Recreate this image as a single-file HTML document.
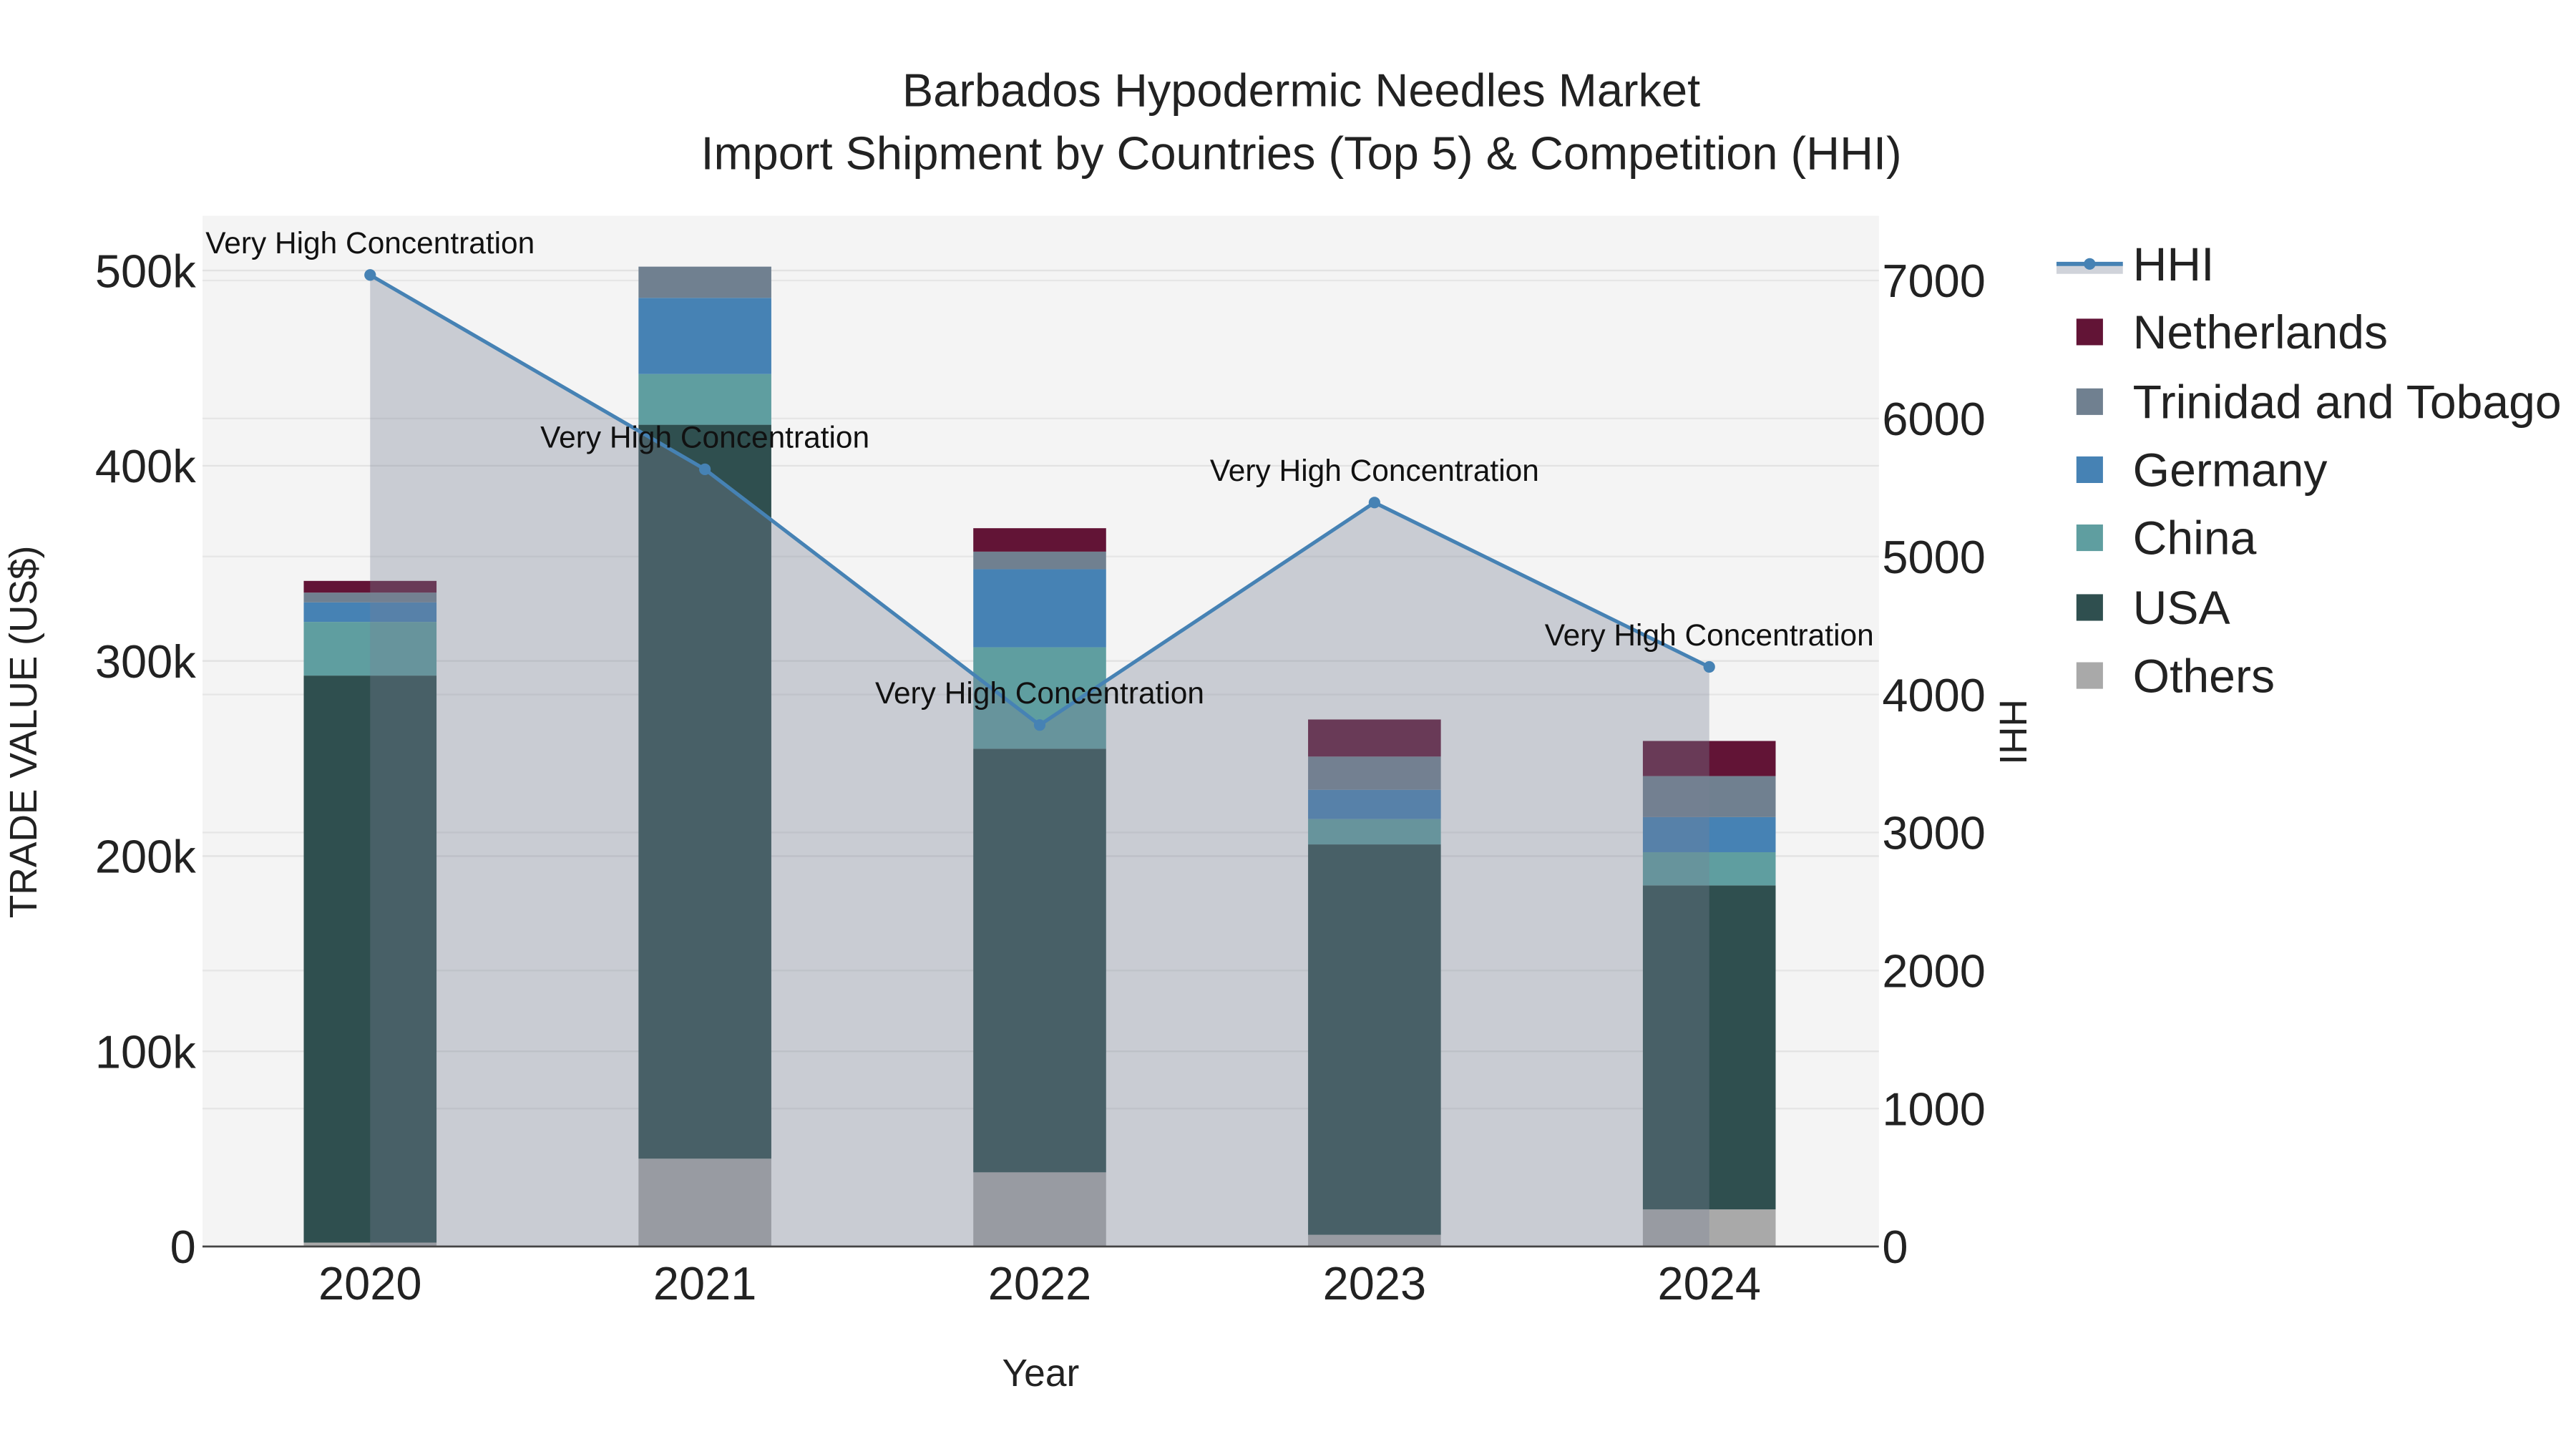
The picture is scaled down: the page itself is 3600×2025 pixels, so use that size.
<!DOCTYPE html>
<html><head><meta charset="utf-8"><style>
html,body{margin:0;padding:0;background:#fff;}
svg{display:block;font-family:"Liberation Sans",Arial,sans-serif;}
</style></head><body>
<svg id="chart" width="3600" height="2025" viewBox="0 0 1552 873" xmlns="http://www.w3.org/2000/svg">
<rect x="122" y="130" width="1010" height="621" fill="#f4f4f4"/>
<g id="grid"></g>
<g id="bars"></g>
<g id="hhi"></g>
<line x1="122" y1="751" x2="1132" y2="751" stroke="#444" stroke-width="1.2"/>
<g id="axes" font-size="28" fill="#222"></g>
<text x="784" y="64" text-anchor="middle" font-size="28" fill="#222">Barbados Hypodermic Needles Market</text>
<text x="784" y="102" text-anchor="middle" font-size="28" fill="#222">Import Shipment by Countries (Top 5) &amp; Competition (HHI)</text>
<text x="627" y="835" text-anchor="middle" font-size="23" fill="#222">Year</text>
<text transform="translate(22,441) rotate(-90)" text-anchor="middle" font-size="23" fill="#222">TRADE VALUE (US$)</text>
<text transform="translate(1205,441) rotate(90)" text-anchor="middle" font-size="23" fill="#222">HHI</text>
<g id="legend" font-size="28.5" fill="#222"></g>
</svg>
<script>
const years = ["2020","2021","2022","2023","2024"];
const seriesNames = ["Others","USA","China","Germany","Trinidad and Tobago","Netherlands"];
const others = [2000, 45000, 38000, 6000, 19000];
const usa = [290500, 376000, 217000, 200000, 166000];
const china = [27500, 26000, 52000, 13000, 17000];
const germany = [10000, 39000, 40000, 15000, 18000];
const trinidad = [5000, 16000, 9000, 17000, 21000];
const netherlands = [6000, 0, 12000, 19000, 18000];
const hhi = [7040, 5632, 3779, 5391, 4200];
const hhiLabels = ["Very High Concentration","Very High Concentration","Very High Concentration","Very High Concentration","Very High Concentration"];
const yTicks = [0,100000,200000,300000,400000,500000];
const yTickLabels = ["0","100k","200k","300k","400k","500k"];
const y2Ticks = [0,1000,2000,3000,4000,5000,6000,7000];

const colors = ["#a9a9a9","#2f4f4f","#5f9ea0","#4682b4","#708090","#621436"];
const NS="http://www.w3.org/2000/svg";
const X0=223, DX=201.7, BW=80, BASE=751;
const xPos=i=>X0+i*DX;
const yL=v=>BASE-v*(588/500000);
const yR=v=>BASE-v*(582/7000);
function mk(tag,attrs,parent){const e=document.createElementNS(NS,tag);for(const k in attrs)e.setAttribute(k,attrs[k]);parent.appendChild(e);return e;}
const grid=document.getElementById('grid'),bars=document.getElementById('bars'),hg=document.getElementById('hhi'),axes=document.getElementById('axes'),leg=document.getElementById('legend');
yTicks.forEach((t,i)=>{
  if(t>0){const l=mk('line',{x1:122,x2:1132,y1:yL(t),y2:yL(t),stroke:'#e2e2e2','stroke-width':1},grid);
  
  }
  const tx=mk('text',{x:118,y:yL(t)+10,'text-anchor':'end'},axes);tx.textContent=yTickLabels[i];
  
  
});
y2Ticks.forEach(t=>{
  if(t>0){const l=mk('line',{x1:122,x2:1132,y1:yR(t),y2:yR(t),stroke:'#e6e6e6','stroke-width':1},grid);
  
  }
  const tx=mk('text',{x:1134,y:yR(t)+10,'text-anchor':'start'},axes);tx.textContent=String(t);
  
  
});
years.forEach((y,i)=>{
  const tx=mk('text',{x:xPos(i),y:783,'text-anchor':'middle'},axes);tx.textContent=y;
  
  
});
const data=[others,usa,china,germany,trinidad,netherlands];
years.forEach((y,i)=>{
  let cum=0;
  data.forEach((s,k)=>{
    const v=s[i]; if(v<=0) return;
    const r=mk('rect',{x:xPos(i)-BW/2,y:yL(cum+v),width:BW,height:yL(cum)-yL(cum+v),fill:colors[k]},bars);
    
    
    cum+=v;
  });
});
let pts=hhi.map((v,i)=>xPos(i)+','+yR(v)).join(' ');
const area=mk('polygon',{points:xPos(0)+','+BASE+' '+pts+' '+xPos(hhi.length-1)+','+BASE,fill:'rgba(120,130,150,0.35)'},hg);


const line=mk('polyline',{points:pts,fill:'none',stroke:'#4682b4','stroke-width':2.2},hg);


hhi.forEach((v,i)=>{
  const c=mk('circle',{cx:xPos(i),cy:yR(v),r:3.5,fill:'#4682b4'},hg);
  
  
  const t=mk('text',{x:xPos(i),y:yR(v)-13,'text-anchor':'middle','font-size':18.3,fill:'#111'},hg);
  t.textContent=hhiLabels[i];
  
  
});
const ly=[159,200,242,283,324,366,407];
const g0=mk('g',{},leg);


mk('rect',{x:1239,y:159,width:40,height:6,fill:'rgba(120,130,150,0.35)'},g0);
mk('line',{x1:1239,x2:1279,y1:159,y2:159,stroke:'#4682b4','stroke-width':2.5},g0);
mk('circle',{cx:1259,cy:159,r:3.5,fill:'#4682b4'},g0);
const t0=mk('text',{x:1285,y:169},g0);t0.textContent='HHI';
const legOrder=[5,4,3,2,1,0];
legOrder.forEach((k,j)=>{
  const g=mk('g',{},leg);
  
  
  const yy=ly[j+1];
  mk('rect',{x:1251,y:yy-8,width:16,height:16,fill:colors[k]},g);
  const t=mk('text',{x:1285,y:yy+10},g);t.textContent=seriesNames[k];
});
</script>
</body></html>
